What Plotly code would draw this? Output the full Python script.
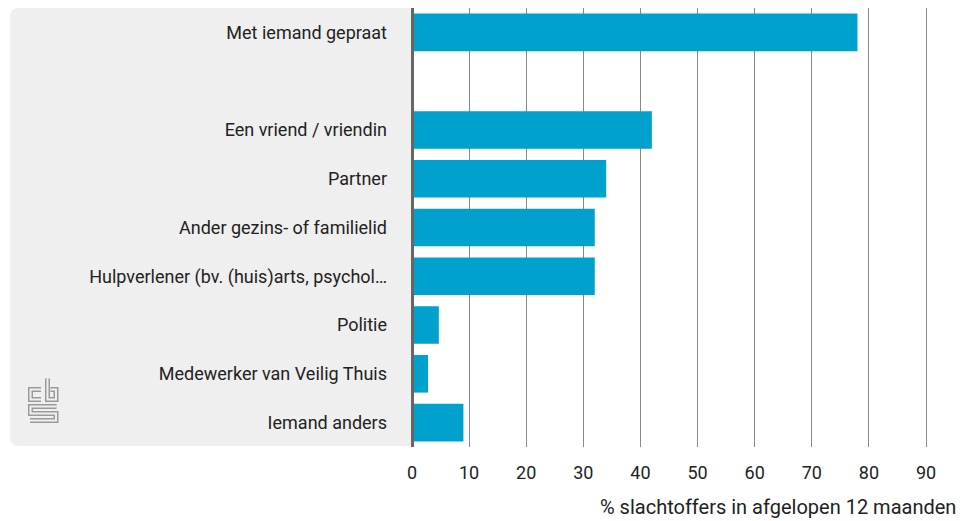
import plotly.graph_objects as go

categories = [
    "Met iemand gepraat",
    " ",
    "Een vriend / vriendin",
    "Partner",
    "Ander gezins- of familielid",
    "Hulpverlener (bv. (huis)arts, psychol…",
    "Politie",
    "Medewerker van Veilig Thuis",
    "Iemand anders",
]
values = [78, None, 42, 34, 32, 32, 4.7, 2.8, 9]
x_ticks = [0, 10, 20, 30, 40, 50, 60, 70, 80, 90]
x_title = "% slachtoffers in afgelopen 12 maanden"

# page body adds an 8px offset; work in reference pixel coordinates
OFF = 8
W, H = 967 - OFF, 521 - OFF
L = 412 - OFF
R = 10
T = 8 - OFF
B = H - (447 - OFF)
PW = W - L - R
PH = H - T - B
PX_PER_UNIT = 514 / 90.0
XMAX = PW / PX_PER_UNIT

def px(x):
    return (x - OFF - L) / PW

def py(y):
    return (H - B - (y - OFF)) / PH

FONT = "Roboto"
FS = 18
TXT = "#222222"
BAR = "#00a1cd"
PANEL = "#efefef"

fig = go.Figure()
fig.add_trace(go.Bar(
    y=categories, x=values, orientation="h",
    marker=dict(color=BAR, line=dict(width=0)),
    hoverinfo="x+y",
))

shapes = []
# grey label panel with rounded left corners
x0, x1, y0, y1, r = 10, 412, 8, 446, 9
path = (f"M {px(x1)},{py(y0)} L {px(x0+r)},{py(y0)} "
        f"Q {px(x0)},{py(y0)} {px(x0)},{py(y0+r)} "
        f"L {px(x0)},{py(y1-r)} Q {px(x0)},{py(y1)} {px(x0+r)},{py(y1)} "
        f"L {px(x1)},{py(y1)} Z")
shapes.append(dict(type="path", xref="paper", yref="paper", path=path,
                   fillcolor=PANEL, line=dict(width=0), layer="below"))

# cbs logo (double-line strokes)
ox, oy = 20, 375
logo_paths = [
    [(21, 14.5), (10.5, 14.5), (10.5, 24.5), (21, 24.5)],
    [(27.5, 3.5), (27.5, 24.5), (36, 24.5), (36, 14.5), (30.5, 14.5)],
    [(36.5, 31.5), (10.5, 31.5), (10.5, 38.5), (36, 38.5), (36, 45.5), (10, 45.5)],
]
for pts in logo_paths:
    d = "M " + " L ".join(f"{px(ox+a)},{py(oy+b)}" for a, b in pts)
    shapes.append(dict(type="path", xref="paper", yref="paper", path=d,
                       line=dict(color="#9a9a9a", width=5), layer="above"))
    shapes.append(dict(type="path", xref="paper", yref="paper", path=d,
                       line=dict(color=PANEL, width=2), layer="above"))

# axis line at zero (paper ref so it is not clipped)
shapes.append(dict(type="line", xref="paper", yref="paper",
                   x0=px(412.5), x1=px(412.5), y0=0, y1=1,
                   line=dict(color="#666666", width=3), layer="above"))

fig.update_layout(
    width=W, height=H,
    margin=dict(l=L, r=R, t=T, b=B, pad=0),
    paper_bgcolor="white", plot_bgcolor="rgba(0,0,0,0)",
    bargap=0.23,
    showlegend=False,
    font=dict(family=FONT, size=FS, color=TXT),
    shapes=shapes,
    xaxis=dict(
        range=[0, XMAX], tickvals=x_ticks, ticktext=[str(v) for v in x_ticks],
        showgrid=True, gridcolor="#8a8a8a", gridwidth=1,
        zeroline=False, showline=False, ticks="",
        ticklabelstandoff=13, fixedrange=True,
        tickfont=dict(family=FONT, size=FS, color=TXT),
    ),
    yaxis=dict(
        categoryorder="array", categoryarray=categories, autorange="reversed",
        showgrid=False, zeroline=False, showline=False, ticks="",
        ticklabelstandoff=24, fixedrange=True,
        tickfont=dict(family=FONT, size=FS, color=TXT),
    ),
    annotations=[dict(
        text=x_title, xref="paper", yref="paper", x=px(958), y=py(507),
        xanchor="right", yanchor="middle", showarrow=False,
        font=dict(family=FONT, size=20, color=TXT),
    )],
)

fig.write_html("out.html")
